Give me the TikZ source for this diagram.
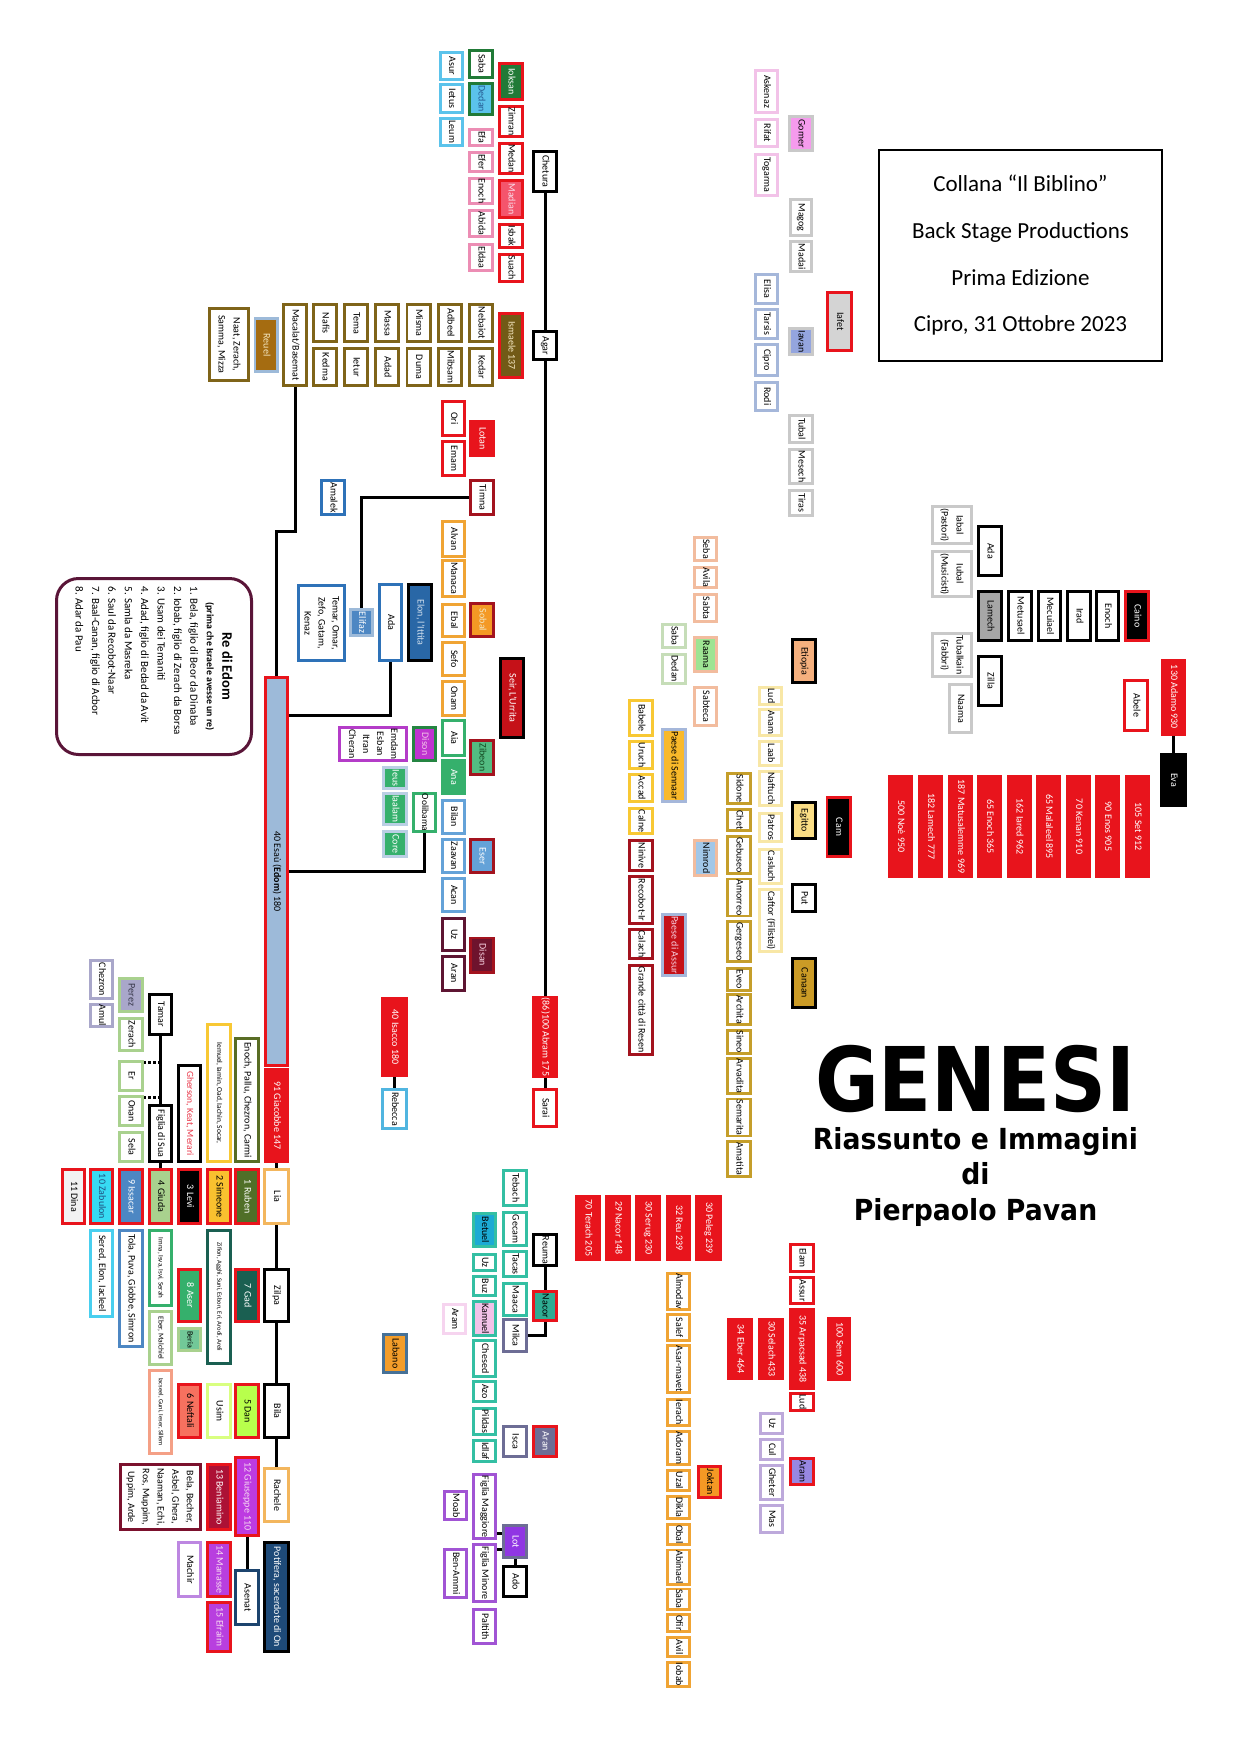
\documentclass[tikz,border=0pt]{standalone}
\usepackage{fontspec}
\setmainfont{Carlito}
\newfontfamily\titlefont{DejaVu Sans}
\usepackage{graphicx}
\definecolor{rosso}{HTML}{E8141C}
\definecolor{rossoscuro}{HTML}{A3131E}
\definecolor{azzurro}{HTML}{5BC3EB}
\definecolor{verdescuro}{HTML}{217A37}
\definecolor{rosa}{HTML}{EC8DB4}
\definecolor{oliva}{HTML}{7F6419}
\definecolor{arancio}{HTML}{F0A434}
\definecolor{blu}{HTML}{2E72B8}
\definecolor{verdeedom}{HTML}{35B06C}
\definecolor{celeste}{HTML}{64A2D8}
\definecolor{bordeaux}{HTML}{5E1532}
\definecolor{magenta2}{HTML}{B43CC8}
\definecolor{grigio}{HTML}{C9C9C9}
\definecolor{rosachiaro}{HTML}{F2C2E8}
\definecolor{grigioblu}{HTML}{A5B7DA}
\definecolor{pesca}{HTML}{F2BC9E}
\definecolor{verdechiaro}{HTML}{C6DDB8}
\definecolor{giallo}{HTML}{F8C834}
\definecolor{giallino}{HTML}{F8E7A6}
\definecolor{oro}{HTML}{C59E2A}
\definecolor{turchese}{HTML}{34BFA3}
\definecolor{ardesia}{HTML}{6D6D95}
\definecolor{viola}{HTML}{A154D4}
\definecolor{lavanda}{HTML}{BDA9DB}
\definecolor{verdefoglia}{HTML}{A9D18E}
\definecolor{grigioviola}{HTML}{A9A7CA}
\definecolor{cornice}{HTML}{5A1538}
\definecolor{azzurrino}{HTML}{9DBAD9}
\definecolor{crema}{HTML}{F3E6C0}
\newcommand{\vt}[1]{\rotatebox{-90}{\begin{tabular}{@{}c@{}}#1\end{tabular}}}

\begin{document}
\begin{tikzpicture}[x=1pt, y=-1pt,
	box/.style={draw, fill=white, line width=2.8pt, inner sep=0.4pt, font=\fontsize{10}{12}\selectfont},
	wh/.style 2 args={minimum width={#1-2.8}, minimum height={#2-2.8}},
	redbox/.style={box, draw=rosso},
	redfill/.style={box, draw=rosso, fill=rosso, text=white},
	blackbox/.style={box, draw=black, line width=3.4pt},
	cyanbox/.style={box, draw=azzurro},
	greenbox/.style={box, draw=verdescuro},
	pinkbox/.style={box, draw=rosa},
	olivebox/.style={box, draw=oliva},
	dkredbox/.style={box, draw=rossoscuro},
	orangebox/.style={box, draw=arancio},
	bluebox/.style={box, draw=blu},
	edgreenbox/.style={box, draw=verdeedom},
	sbluebox/.style={box, draw=celeste},
	maroonbox/.style={box, draw=bordeaux},
	magbox/.style={box, draw=magenta2},
	greybox/.style={box, draw=grigio},
	lpinkbox/.style={box, draw=rosachiaro},
	lbgbox/.style={box, draw=grigioblu},
	peachbox/.style={box, draw=pesca},
	lgreenbox/.style={box, draw=verdechiaro},
	ylwbox/.style={box, draw=giallo},
	lyelbox/.style={box, draw=giallino},
	goldbox/.style={box, draw=oro},
	tealbox/.style={box, draw=turchese},
	slatebox/.style={box, draw=ardesia},
	violetbox/.style={box, draw=viola},
	lavbox/.style={box, draw=lavanda},
	leafbox/.style={box, draw=verdefoglia},
	greyvbox/.style={box, draw=grigioviola},
	link/.style={line width=3pt},
	dotlink/.style={line width=3pt, dash pattern=on 2.5pt off 2.5pt}]
\fill[white] (0,0) rectangle (1241,1754);
\useasboundingbox (0,0) rectangle (1241,1754);

% titolo e colophon
\node[draw, line width=2pt, minimum width=283, minimum height=211, align=center,
	font=\fontsize{23}{46.7}\selectfont] (collana) at (1020.5,255.5)
	{Collana “Il Biblino”\\Back Stage Productions\\Prima Edizione\\Cipro, 31 Ottobre 2023};
\node[inner sep=0pt, anchor=base] (genesi) at (975,1111)
	{\scalebox{0.845}[0.97]{\titlefont\bfseries\fontsize{92}{92}\selectfont GENESI}};
\node[inner sep=0pt, anchor=base] (riassunto) at (975.5,1149)
	{\scalebox{0.92}[1]{\titlefont\bfseries\fontsize{29}{30}\selectfont Riassunto e Immagini}};
\node[inner sep=0pt, anchor=base] (di) at (975.5,1184)
	{\scalebox{0.92}[1]{\titlefont\bfseries\fontsize{29}{30}\selectfont di}};
\node[inner sep=0pt, anchor=base] (autore) at (975.5,1220)
	{\scalebox{0.92}[1]{\titlefont\bfseries\fontsize{29}{30}\selectfont Pierpaolo Pavan}};

% Chetura e Agar
\node[cyanbox, wh={25}{30}] (asur) at (451.5,66) {\vt{Asur}};
\node[cyanbox, wh={25}{31}] (ietus) at (451.5,98.5) {\vt{Ietus}};
\node[cyanbox, wh={25}{30}] (leum) at (451.5,132) {\vt{Leum}};
\node[greenbox, wh={26}{30}] (sabak) at (481,64) {\vt{Saba}};
\node[greenbox, fill=azzurro, text=blu!80!black, wh={26}{34}] (dedank) at (481,99) {\vt{Dedan}};
\node[redbox, fill=verdescuro, text=white, wh={26}{39}] (ioksan) at (511,81.5) {\vt{Ioksan}};
\node[redbox, wh={26}{33}] (zimran) at (511,121.5) {\vt{Zimran}};
\node[redbox, wh={26}{33}] (medan) at (511,158.5) {\vt{Medan}};
\node[redbox, fill=rosa!60!red, text=rosa!30, wh={26}{40}] (madian) at (511,199) {\vt{Madian}};
\node[redbox, wh={26}{26}] (isbak) at (511,236) {\vt{Isbak}};
\node[redbox, wh={26}{30}] (suach) at (511,268) {\vt{Suach}};
\node[pinkbox, wh={26}{19}] (efa) at (481,137.5) {\vt{Efa}};
\node[pinkbox, wh={26}{22}] (efer) at (481,162) {\vt{Efer}};
\node[pinkbox, wh={26}{28}] (enochm) at (481,191) {\vt{Enoch}};
\node[pinkbox, wh={26}{29}] (abida) at (481,223.5) {\vt{Abida}};
\node[pinkbox, wh={26}{29}] (eldaa) at (481,257.5) {\vt{Eldaa}};
\node[blackbox, wh={26}{43}] (chetura) at (545,171.5) {\vt{Chetura}};
\node[blackbox, wh={26}{31}] (agar) at (545,345.5) {\vt{Agar}};
\node[redbox, fill=oliva!90!black, text=crema, wh={26}{67}] (ismaele) at (511,345.5) {\vt{Ismaele 137}};
\node[olivebox, wh={26}{40}] (nebaiot) at (481,323) {\vt{Nebaiot}};
\node[olivebox, wh={26}{40}] (kedar) at (481,367) {\vt{Kedar}};
\node[olivebox, wh={26}{40}] (adbeel) at (450,323) {\vt{Adbeel}};
\node[olivebox, wh={26}{40}] (mibsam) at (450,367) {\vt{Mibsam}};
\node[olivebox, wh={26}{40}] (misma) at (418.5,323) {\vt{Misma}};
\node[olivebox, wh={26}{40}] (duma) at (418.5,367) {\vt{Duma}};
\node[olivebox, wh={26}{40}] (massa) at (387,323) {\vt{Massa}};
\node[olivebox, wh={26}{40}] (adad) at (387,367) {\vt{Adad}};
\node[olivebox, wh={26}{40}] (tema) at (356,323) {\vt{Tema}};
\node[olivebox, wh={26}{40}] (ietur) at (356,367) {\vt{Ietur}};
\node[olivebox, wh={26}{40}] (nafis) at (325,323) {\vt{Nafis}};
\node[olivebox, wh={26}{40}] (kedma) at (325,367) {\vt{Kedma}};
\node[olivebox, wh={26}{84}] (macalat) at (295,345) {\vt{Macalat/Basemat}};
\node[box, draw=azzurrino, fill=oliva!70!orange, text=crema, wh={25}{56}] (reuel) at (266,345) {\vt{Reuel}};
\node[olivebox, wh={42}{75}, font=\fontsize{10}{15}\selectfont] (naat) at (229,344.5) {\vt{Naat, Zerach,\\Samma, Mizza}};

% Seir
\node[redbox, wh={25}{37}] (ori) at (453.5,418.5) {\vt{Ori}};
\node[redbox, wh={25}{37}] (emam) at (453.5,458.5) {\vt{Emam}};
\node[redfill, wh={26}{37}] (lotan) at (482,438.5) {\vt{Lotan}};
\node[dkredbox, wh={26}{37}] (timna) at (482,497.5) {\vt{Timna}};
\node[orangebox, wh={25}{38}] (alvan) at (453.5,539) {\vt{Alvan}};
\node[orangebox, wh={25}{39}] (manaca) at (453.5,578.5) {\vt{Manaca}};
\node[orangebox, wh={25}{35}] (ebal) at (453.5,620.5) {\vt{Ebal}};
\node[orangebox, wh={25}{36}] (sefo) at (453.5,659) {\vt{Sefo}};
\node[orangebox, wh={25}{37}] (onam) at (453.5,698.5) {\vt{Onam}};
\node[edgreenbox, wh={25}{38}] (aia) at (453.5,738) {\vt{Aia}};
\node[edgreenbox, fill=verdeedom, text=white, wh={25}{36}] (ana) at (453.5,777) {\vt{Ana}};
\node[sbluebox, wh={25}{36}] (bilan) at (453.5,817) {\vt{Bilan}};
\node[sbluebox, wh={25}{36}] (zaavan) at (453.5,856) {\vt{Zaavan}};
\node[sbluebox, wh={25}{36}] (acan) at (453.5,895) {\vt{Acan}};
\node[maroonbox, wh={25}{35}] (uzs) at (453.5,934.5) {\vt{Uz}};
\node[maroonbox, wh={25}{37}] (arans) at (453.5,973.5) {\vt{Aran}};
\node[dkredbox, fill=arancio!70!orange, text=crema, wh={26}{36}] (sobal) at (482,620) {\vt{Sobal}};
\node[blackbox, fill=rosso!85!black, text=white, wh={26}{82}] (seir) at (512,698) {\vt{Seir, L’Urrita}};
\node[dkredbox, fill=verdeedom!85!white, text=verdescuro!60!black, wh={26}{37}] (zibeon) at (482,757.5) {\vt{Zibeon}};
\node[dkredbox, fill=celeste, text=white, wh={26}{36}] (eser) at (482,856) {\vt{Eser}};
\node[maroonbox, draw=rossoscuro, fill=bordeaux!90!red, text=rosa!40, wh={26}{37}] (disan) at (482,955) {\vt{Disan}};

% Esaù
\node[bluebox, wh={26}{37}] (amalek) at (333,497.5) {\vt{Amalek}};
\node[box, draw=azzurrino, fill=blu!85!white, text=white, wh={25}{29}] (elifaz) at (361.5,622.5) {\vt{Elifaz}};
\node[bluebox, wh={49}{78}, font=\fontsize{10}{14}\selectfont] (temar) at (321.5,623) {\vt{Temar, Omar,\\Zefo, Gatam,\\Kenaz}};
\node[bluebox, wh={25}{79}] (adae) at (390.5,622.5) {\vt{Ada}};
\node[blackbox, fill=blu!90!black, text=azzurrino!50!white, wh={26}{79}] (elon) at (420,622.5) {\vt{Elon, l’Ittita}};
\node[box, draw=verdescuro!80!verdeedom, fill=magenta2!85!magenta, text=rosachiaro, wh={25}{36}] (dison) at (424.5,744) {\vt{Dison}};
\node[magbox, wh={70}{36}, font=\fontsize{10}{14}\selectfont] (emdam) at (373,744) {\vt{Emdam\\Esban\\Itran\\Cheran}};
\node[box, draw=azzurrino!70!white, fill=verdeedom, text=white, wh={26}{24}] (ieus) at (395,778) {\vt{Ieus}};
\node[box, draw=azzurrino!70!white, fill=verdeedom, text=white, wh={26}{34}] (iaalam) at (395,809) {\vt{Iaalam}};
\node[box, draw=azzurrino!70!white, fill=verdeedom, text=white, wh={26}{28}] (core) at (395,844) {\vt{Core}};
\node[edgreenbox, wh={25}{39}, font=\fontsize{9.5}{12}\selectfont] (oolibama) at (424.5,812.5) {\vt{Oolibama}};
\node[redbox, fill=azzurrino, wh={25}{391}] (esau) at (276.5,871.5) {\vt{40 Esaù (\textbf{Edom}) 180}};
\node[redfill, wh={25}{95}] (giacobbe) at (276.5,1115.5) {\vt{91 Giacobbe 147}};
\node[draw=cornice, line width=3pt, rounded corners=22pt, minimum width=195, minimum height=176,
	inner sep=0pt] (redom) at (154,666.5) {\rotatebox{-90}{\begin{minipage}{160pt}\centering
	{\fontsize{14.5}{17}\selectfont\bfseries Re di Edom\par}
	{\fontsize{9.8}{15.5}\selectfont\bfseries (prima che Israele avesse un re)\par}
	\raggedright\fontsize{11}{16.4}\selectfont
	1. Bela, figlio di Beor da Dinaba\\
	2. Iobab, figlio di Zerach da Borsa\\
	3. Usam dei Temaniti\\
	4. Adad, figlio di Bedad da Avit\\
	5. Samla da Masreka\\
	6. Saul da Recobot-Naar\\
	7. Baal-Canan, figlio di Acbor\\
	8. Adar da Pau\end{minipage}}};

% Giacobbe
\node[greyvbox, wh={25}{41}] (chezron) at (101.5,979.5) {\vt{Chezron}};
\node[greyvbox, wh={25}{25}] (amul) at (101.5,1015.5) {\vt{Amul}};
\node[leafbox, fill=grigioviola, text=ardesia!50!black, wh={26}{36}] (perez) at (131,995) {\vt{Perez}};
\node[leafbox, wh={26}{35}] (zerach) at (131,1034.5) {\vt{Zerach}};
\node[leafbox, wh={26}{32}] (er) at (131,1076) {\vt{Er}};
\node[leafbox, wh={26}{32}] (onan) at (131,1111) {\vt{Onan}};
\node[leafbox, wh={26}{32}] (sela) at (131,1147) {\vt{Sela}};
\node[blackbox, wh={25}{43}] (tamar) at (160.5,1014.5) {\vt{Tamar}};
\node[blackbox, wh={25}{59}] (figliasua) at (160.5,1133.5) {\vt{Figlia di Sua}};
\node[blackbox, text=rosso!70!rosa, wh={25}{99}, font=\fontsize{9.5}{12}\selectfont] (gherson) at (189.5,1113.5) {\vt{Gherson, Keat, Merari}};
\node[box, draw=giallo, wh={26}{140}, font=\fontsize{7.5}{9}\selectfont] (iemuel) at (219,1093) {\vt{Iemuel, Iamin, Oad, Iachin, Socar,}};
\node[box, draw=oliva!60!verdescuro, wh={26}{126}] (enochp) at (247,1100) {\vt{Enoch, Pallu, Chezron, Carmi}};
\node[box, draw=arancio!80!white, wh={27}{57}] (lia) at (276.5,1196.5) {\vt{Lia}};
\node[redbox, fill=oliva!50!verdescuro, text=white, wh={26}{57}] (ruben) at (247,1196.5) {\vt{1 Ruben}};
\node[redbox, fill=giallo!90!orange, wh={26}{57}] (simeone) at (219,1196.5) {\vt{2 Simeone}};
\node[redbox, fill=black, text=white, wh={25}{57}] (levi) at (189.5,1196.5) {\vt{3 Levi}};
\node[redbox, fill=verdefoglia, wh={25}{57}] (giuda) at (160.5,1196.5) {\vt{4 Giuda}};
\node[redbox, fill=blu!85!white, text=white, wh={26}{57}] (issacar) at (131,1196.5) {\vt{9 Issacar}};
\node[redbox, fill=azzurro!60!cyan, text=blu!70!black, wh={25}{57}] (zabulon) at (101.5,1196.5) {\vt{10 Zabulon}};
\node[redbox, fill=black!5, wh={25}{57}] (dina) at (73.5,1196.5) {\vt{11 Dina}};
\node[box, draw=azzurro!80!cyan, wh={25}{89}] (sered) at (101.5,1273.5) {\vt{Sered, Elon, Iacleel}};
\node[box, draw=blu!85!white, wh={26}{119}] (tola) at (131,1288.5) {\vt{Tola, Puva, Giobbe, Simron}};
\node[edgreenbox, wh={25}{78}, font=\fontsize{7}{9}\selectfont] (imna) at (160.5,1268) {\vt{Imna, Isva, Isvi, Serah}};
\node[leafbox, wh={25}{56}, font=\fontsize{7.5}{9}\selectfont] (ebermal) at (160.5,1338) {\vt{Eber, Malchiel}};
\node[redbox, fill=verdeedom, text=white, wh={25}{55}] (aser) at (189.5,1295.5) {\vt{8 Aser}};
\node[leafbox, fill=verdeedom!70!white, wh={25}{25}, font=\fontsize{8}{9}\selectfont] (beria) at (189.5,1339.5) {\vt{Beria}};
\node[box, draw=turchese!50!black, wh={26}{136}, font=\fontsize{6.5}{8}\selectfont] (zifion) at (219,1297) {\vt{Zifion, Agghi, Suni, Esbon, Eri, Arodi, Areli}};
\node[redbox, fill=turchese!50!black, text=white, wh={26}{55}] (gad) at (247,1295.5) {\vt{7 Gad}};
\node[blackbox, wh={27}{55}] (zilpa) at (276.5,1295.5) {\vt{Zilpa}};
\node[blackbox, wh={27}{56}] (bila) at (276.5,1411) {\vt{Bila}};
\node[redbox, fill=green!40!yellow!70!white, wh={26}{56}] (dan) at (247,1411) {\vt{5 Dan}};
\node[box, draw=green!30!yellow!50!white, wh={26}{56}] (usim) at (219,1411) {\vt{Usim}};
\node[redbox, fill=pesca!60!red, wh={25}{56}] (neftali) at (189.5,1411) {\vt{6 Neftali}};
\node[box, draw=pesca!85!red, wh={25}{86}, font=\fontsize{6.5}{8}\selectfont] (iacseel) at (160.5,1412) {\vt{Iacseel, Guni, Ieser, Sillem}};
\node[box, draw=arancio!80!white, wh={27}{56}] (rachele) at (276.5,1495) {\vt{Rachele}};
\node[redbox, fill=viola!70!magenta, text=rosachiaro!60!white, wh={26}{81}] (giuseppe) at (247,1496.5) {\vt{12 Giuseppe 110}};
\node[redbox, fill=rossoscuro!90!magenta, text=white, wh={26}{68}] (beniamino) at (219,1497) {\vt{13 Beniamino}};
\node[box, draw=cornice!80!red, wh={83}{68}, font=\fontsize{10}{14.7}\selectfont] (bela) at (160.5,1497)
	{\vt{Bela, Becher,\\Asbel, Ghera,\\Naaman, Echi,\\Ros, Muppim,\\Uppim, Arde}};
\node[box, draw=blu!60!black, wh={26}{57}] (asenat) at (247,1597.5) {\vt{Asenat}};
\node[blackbox, fill=blu!65!black, text=white, wh={27}{112}] (potifera) at (276.5,1597) {\vt{Potifera, sacerdote di On}};
\node[redbox, fill=viola!75!magenta, text=rosachiaro!60!white, wh={26}{57}] (manasse) at (219,1569.5) {\vt{14 Manasse}};
\node[redbox, fill=viola!75!magenta, text=rosachiaro!60!white, wh={26}{52}] (efraim) at (219,1627) {\vt{15 Efraim}};
\node[violetbox, draw=viola!70!white, wh={25}{57}] (machir) at (189.5,1569.5) {\vt{Machir}};
\node[box, draw=celeste!70!black, fill=arancio!80!orange, wh={26}{41}] (labano) at (395,1353.5) {\vt{Labano}};

% Abram e Isacco
\node[redfill, wh={27}{80}] (isacco) at (394.5,1037) {\vt{40 Isacco 180}};
\node[box, draw=celeste!80!cyan, wh={27}{42}] (rebecca) at (394.5,1109) {\vt{Rebecca}};
\node[redfill, wh={26}{80}] (abram) at (545,1037) {\vt{(86)100 Abram 175}};
\node[redbox, wh={26}{40}] (sarai) at (545,1108) {\vt{Sarai}};

% Nacor e Lot
\node[tealbox, wh={26}{38}] (tebach) at (515,1188) {\vt{Tebach}};
\node[tealbox, wh={26}{36}] (gecam) at (515,1229) {\vt{Gecam}};
\node[tealbox, wh={26}{28}] (tacas) at (515,1264) {\vt{Tacas}};
\node[tealbox, wh={26}{35}] (maaca) at (515,1299.5) {\vt{Maaca}};
\node[slatebox, wh={26}{35}] (milca) at (515,1335.5) {\vt{Milca}};
\node[blackbox, wh={26}{34}] (reuma) at (545,1250) {\vt{Reuma}};
\node[redbox, fill=turchese!90!black, wh={26}{32}] (nacor) at (545,1306) {\vt{Nacor}};
\node[tealbox, fill=blu!60!cyan, wh={25}{36}] (betuel) at (484.5,1230) {\vt{Betuel}};
\node[tealbox, wh={25}{19}] (uzn) at (484.5,1262.5) {\vt{Uz}};
\node[tealbox, wh={25}{22}] (buz) at (484.5,1286) {\vt{Buz}};
\node[tealbox, fill=rosachiaro, wh={25}{37}] (kamuel) at (484.5,1318.5) {\vt{Kamuel}};
\node[box, draw=rosachiaro!70!white, wh={25}{32}] (aramn) at (454.5,1319) {\vt{Aram}};
\node[tealbox, wh={25}{39}] (chesed) at (484.5,1358.5) {\vt{Chesed}};
\node[tealbox, wh={25}{23}] (azo) at (484.5,1391.5) {\vt{Azo}};
\node[tealbox, wh={25}{29}] (pildas) at (484.5,1421.5) {\vt{Pildas}};
\node[tealbox, wh={25}{24}] (idlaf) at (484.5,1451) {\vt{Idlaf}};
\node[slatebox, wh={26}{33}] (isca) at (515,1441.5) {\vt{Isca}};
\node[redbox, fill=ardesia, text=white, wh={26}{33}] (aran) at (545,1441.5) {\vt{Aran}};
\node[violetbox, wh={25}{67}] (figliamag) at (484.5,1506.5) {\vt{Figlia Maggiore}};
\node[violetbox, wh={25}{60}] (figliamin) at (484.5,1573) {\vt{Figlia Minore}};
\node[violetbox, wh={25}{37}] (paltith) at (484.5,1626.5) {\vt{Paltith}};
\node[violetbox, wh={25}{31}] (moab) at (455.5,1505.5) {\vt{Moab}};
\node[violetbox, wh={25}{51}] (benammi) at (455.5,1573.5) {\vt{Ben-Ammi}};
\node[slatebox, fill=viola!80!magenta!80!blue, text=white, wh={26}{35}] (lot) at (515,1541.5) {\vt{Lot}};
\node[blackbox, wh={26}{33}] (ado) at (515,1581.5) {\vt{Ado}};

% Sem
\node[redfill, wh={26}{66}] (terach) at (588,1228) {\vt{70 Terach 205}};
\node[redfill, wh={26}{66}] (nacorp) at (618,1228) {\vt{29 Nacor 148}};
\node[redfill, wh={26}{66}] (serug) at (648,1228) {\vt{30 Serug 230}};
\node[redfill, wh={25}{66}] (reu) at (678.5,1228) {\vt{32 Reu 239}};
\node[redfill, wh={27}{66}] (peleg) at (708.5,1228) {\vt{30 Peleg 239}};
\node[redfill, wh={26}{62}] (eber) at (740,1349) {\vt{34 Eber 464}};
\node[redfill, wh={26}{62}] (selach) at (771,1349) {\vt{30 Selach 433}};
\node[redfill, wh={26}{82}] (arpacsad) at (802,1349) {\vt{35 Arpacsad 438}};
\node[redfill, wh={24}{64}] (sem) at (839,1349) {\vt{100 Sem 600}};
\node[redbox, wh={26}{30}] (elam) at (802,1258) {\vt{Elam}};
\node[redbox, wh={26}{29}] (assur) at (802,1290.5) {\vt{Assur}};
\node[redbox, wh={26}{20}] (luds) at (802,1402) {\vt{Lud}};
\node[redbox, fill=lavanda!80!blue, wh={26}{29}] (aramp) at (802,1471.5) {\vt{Aram}};
\node[lavbox, wh={25}{23}] (uza) at (771.5,1423.5) {\vt{Uz}};
\node[lavbox, wh={25}{23}] (cul) at (771.5,1449.5) {\vt{Cul}};
\node[lavbox, wh={25}{37}] (gheter) at (771.5,1482.5) {\vt{Gheter}};
\node[lavbox, wh={25}{30}] (mas) at (771.5,1519) {\vt{Mas}};
\node[redbox, fill=arancio!70!orange, wh={25}{34}] (joktan) at (709.5,1482) {\vt{Joktan}};
\node[orangebox, wh={25}{39}] (almodav) at (678.5,1291.5) {\vt{Almodav}};
\node[orangebox, wh={25}{29}] (salef) at (678.5,1327.5) {\vt{Salef}};
\node[orangebox, wh={25}{50}] (asarmavet) at (678.5,1369) {\vt{Asar-mavet}};
\node[orangebox, wh={25}{29}] (ierach) at (678.5,1412.5) {\vt{Ierach}};
\node[orangebox, wh={25}{36}] (adoram) at (678.5,1448) {\vt{Adoram}};
\node[orangebox, wh={25}{23}] (uzal) at (678.5,1480.5) {\vt{Uzal}};
\node[orangebox, wh={25}{25}] (dikla) at (678.5,1507.5) {\vt{Dikla}};
\node[orangebox, wh={25}{23}] (obal) at (678.5,1534.5) {\vt{Obal}};
\node[orangebox, wh={25}{36}] (abimael) at (678.5,1567) {\vt{Abimael}};
\node[orangebox, wh={25}{22}] (sabaj) at (678.5,1599) {\vt{Saba}};
\node[orangebox, wh={25}{20}] (ofir) at (678.5,1623) {\vt{Ofir}};
\node[orangebox, wh={25}{22}] (avil) at (678.5,1647) {\vt{Avil}};
\node[orangebox, wh={25}{25}] (iobab) at (678.5,1674.5) {\vt{Iobab}};

% Cam
\node[peachbox, wh={25}{26}] (seba) at (705.5,549) {\vt{Seba}};
\node[peachbox, wh={25}{23}] (avila) at (705.5,577.5) {\vt{Avila}};
\node[peachbox, wh={25}{30}] (sabta) at (705.5,608) {\vt{Sabta}};
\node[peachbox, fill=verdechiaro!80!green, wh={25}{37}] (raama) at (705.5,654.5) {\vt{Raama}};
\node[peachbox, wh={25}{41}] (sabteca) at (705.5,706.5) {\vt{Sabteca}};
\node[lgreenbox, wh={26}{26}] (sabar) at (674,636) {\vt{Saba}};
\node[lgreenbox, wh={26}{32}] (dedanr) at (674,669) {\vt{Dedan}};
\node[lbgbox, fill=giallo!80!orange, wh={26}{75}] (sennaar) at (674,765.5) {\vt{Paese di Sennaar}};
\node[peachbox, fill=celeste!60!white, wh={25}{38}] (nimrod) at (705.5,858) {\vt{Nimrod}};
\node[lbgbox, fill=rosso!85!black, text=rosa!40, wh={26}{64}] (paeseassur) at (674,945) {\vt{Paese di Assur}};
\node[ylwbox, wh={26}{38}] (babele) at (641,718) {\vt{Babele}};
\node[ylwbox, wh={26}{30}] (uruch) at (641,755) {\vt{Uruch}};
\node[ylwbox, wh={26}{30}] (accad) at (641,788) {\vt{Accad}};
\node[ylwbox, wh={26}{28}] (calne) at (641,821) {\vt{Calne}};
\node[dkredbox, wh={26}{33}] (ninive) at (641,855.5) {\vt{Ninive}};
\node[dkredbox, wh={26}{50}] (recobot) at (641,900) {\vt{Recobot-Ir}};
\node[dkredbox, wh={26}{32}] (calach) at (641,944) {\vt{Calach}};
\node[dkredbox, wh={26}{92}] (resen) at (641,1010) {\vt{Grande città di Resen}};
\node[blackbox, fill=pesca!80!orange, wh={26}{46}] (etiopia) at (804,661) {\vt{Etiopia}};
\node[blackbox, fill=giallo!60!white, wh={26}{39}] (egitto) at (804,820.5) {\vt{Egitto}};
\node[redbox, fill=black, text=white, wh={26}{62}] (cam) at (838.5,827) {\vt{Cam}};
\node[blackbox, wh={26}{30}] (put) at (804,898) {\vt{Put}};
\node[blackbox, fill=oro!90!orange, wh={26}{52}] (canaan) at (804,983) {\vt{Canaan}};
\node[lyelbox, wh={25}{20}] (ludm) at (770.5,696) {\vt{Lud}};
\node[lyelbox, wh={25}{29}] (anam) at (770.5,722.5) {\vt{Anam}};
\node[lyelbox, wh={25}{27}] (laab) at (770.5,753.5) {\vt{Laab}};
\node[lyelbox, wh={25}{37}] (naftuch) at (770.5,788.5) {\vt{Naftuch}};
\node[lyelbox, wh={25}{31}] (patros) at (770.5,827.5) {\vt{Patros}};
\node[lyelbox, wh={25}{37}] (casluch) at (770.5,866.5) {\vt{Casluch}};
\node[lyelbox, wh={25}{65}] (caftor) at (770.5,920.5) {\vt{Caftor (Filistei)}};
\node[goldbox, wh={26}{33}] (sidone) at (739,788.5) {\vt{Sidone}};
\node[goldbox, wh={26}{24}] (chet) at (739,820) {\vt{Chet}};
\node[goldbox, wh={26}{40}] (gebuseo) at (739,855) {\vt{Gebuseo}};
\node[goldbox, wh={26}{39}] (amorreo) at (739,897.5) {\vt{Amorreo}};
\node[goldbox, wh={26}{43}] (gergeseo) at (739,941.5) {\vt{Gergeseo}};
\node[goldbox, wh={26}{25}] (eveo) at (739,979.5) {\vt{Eveo}};
\node[goldbox, wh={26}{33}] (archita) at (739,1009.5) {\vt{Archita}};
\node[goldbox, wh={26}{26}] (sineo) at (739,1042) {\vt{Sineo}};
\node[goldbox, wh={26}{38}] (arvadita) at (739,1076) {\vt{Arvadita}};
\node[goldbox, wh={26}{39}] (semarita) at (739,1117.5) {\vt{Semarita}};
\node[goldbox, wh={26}{38}] (amatita) at (739,1159) {\vt{Amatita}};

% Iafet
\node[lpinkbox, wh={25}{45}] (askenaz) at (766.5,91.5) {\vt{Askenaz}};
\node[lpinkbox, wh={25}{30}] (rifat) at (766.5,133) {\vt{Rifat}};
\node[lpinkbox, wh={25}{44}] (togarma) at (766.5,175) {\vt{Togarma}};
\node[greybox, fill=rosachiaro!80!magenta, wh={26}{37}] (gomer) at (801,133.5) {\vt{Gomer}};
\node[greybox, wh={24}{39}] (magog) at (801,217.5) {\vt{Magog}};
\node[greybox, wh={24}{33}] (madai) at (801,256.5) {\vt{Madai}};
\node[lbgbox, wh={25}{32}] (elisa) at (766.5,289) {\vt{Elisa}};
\node[lbgbox, wh={25}{32}] (tarsis) at (766.5,324) {\vt{Tarsis}};
\node[lbgbox, wh={25}{34}] (cipro) at (766.5,360) {\vt{Cipro}};
\node[lbgbox, wh={25}{31}] (rodi) at (766.5,396.5) {\vt{Rodi}};
\node[greybox, fill=grigioblu!90!blue, wh={26}{29}] (iavan) at (801,341.5) {\vt{Iavan}};
\node[redbox, fill=grigio!80!white, wh={27}{61}] (iafet) at (839.5,321.5) {\vt{Iafet}};
\node[greybox, wh={26}{30}] (tubal) at (801,429) {\vt{Tubal}};
\node[greybox, wh={26}{37}] (mesech) at (801,466.5) {\vt{Mesech}};
\node[greybox, wh={26}{28}] (tiras) at (801,503) {\vt{Tiras}};

% Adamo e Caino
\node[redbox, fill=black, text=white, wh={26}{52}] (caino) at (1137,616) {\vt{Caino}};
\node[blackbox, wh={25}{52}] (enochc) at (1107.5,616) {\vt{Enoch}};
\node[blackbox, wh={26}{52}] (irad) at (1079,616) {\vt{Irad}};
\node[blackbox, wh={25}{52}] (mecuiael) at (1049.5,616) {\vt{Mecuiael}};
\node[blackbox, wh={26}{52}] (metusael) at (1020,616) {\vt{Metusael}};
\node[blackbox, fill=black!35, wh={26}{52}] (lamech) at (990,616) {\vt{Lamech}};
\node[blackbox, wh={26}{52}] (adac) at (990,551) {\vt{Ada}};
\node[blackbox, wh={26}{52}] (zilla) at (990,681) {\vt{Zilla}};
\node[greybox, wh={42}{40}, font=\fontsize{10}{15}\selectfont] (iabal) at (952,525) {\vt{Iabal\\(Pastori)}};
\node[greybox, wh={42}{48}, font=\fontsize{10}{15}\selectfont] (iubal) at (952,574) {\vt{Iubal\\(Musicisti)}};
\node[greybox, wh={42}{46}, font=\fontsize{10}{15}\selectfont] (tubalkain) at (952,655) {\vt{Tubalkain\\(Fabbri)}};
\node[greybox, wh={25}{51}] (naama) at (960.5,708.5) {\vt{Naama}};
\node[redbox, wh={26}{53}] (abele) at (1136,705.5) {\vt{Abele}};
\node[redfill, wh={25}{77}] (adamo) at (1173.5,697) {\vt{130 Adamo 930}};
\node[blackbox, fill=black, text=white, wh={27}{54}] (eva) at (1173.5,780) {\vt{Eva}};
\node[redfill, wh={25}{103}] (noe) at (900.5,826.5) {\vt{500 Noè 950}};
\node[redfill, wh={25}{103}] (lamechs) at (930.5,826.5) {\vt{182 Lamech 777}};
\node[redfill, wh={25}{103}] (matusalemme) at (960.5,826.5) {\vt{187 Matusalemme 969}};
\node[redfill, wh={25}{103}] (enochs) at (989.5,826.5) {\vt{65 Enoch 365}};
\node[redfill, wh={25}{103}] (iared) at (1019,826.5) {\vt{162 Iared 962}};
\node[redfill, wh={25}{103}] (malaleel) at (1048.5,826.5) {\vt{65 Malaleel 895}};
\node[redfill, wh={25}{103}] (kenan) at (1078.5,826.5) {\vt{70 Kenan 910}};
\node[redfill, wh={25}{103}] (enos) at (1107.5,826.5) {\vt{90 Enos 905}};
\node[redfill, wh={25}{103}] (set) at (1137.5,826.5) {\vt{105 Set 912}};

% collegamenti
\coordinate (edomknee) at (295,531);
\coordinate (adaknee) at (390.5,715);
\coordinate (oolknee) at (424.5,871);
\coordinate (erdot) at (160.5,1062);
\coordinate (onandot) at (160.5,1097);
\draw[link] (chetura) -- (agar);
\draw[link] (agar) -- (abram);
\draw[link] (abram) -- (sarai);
\draw[link] (isacco) -- (rebecca);
\draw[link] (adamo) -- (eva);
\draw[link] (macalat) -- (edomknee) -| (esau);
\draw[link] (timna) -| (elifaz);
\draw[link] (adae) -- (adaknee) -- (adaknee -| esau.east);
\draw[link] (oolibama) -- (oolknee) -- (oolknee -| esau.east);
\draw[link] (giacobbe) -- (lia);
\draw[link] (lia) -- (zilpa);
\draw[link] (zilpa) -- (bila);
\draw[link] (bila) -- (rachele);
\draw[link] (tamar) -- (figliasua);
\draw[link] (figliasua) -- (giuda);
\draw[dotlink] (erdot) -- (erdot -| er.east);
\draw[dotlink] (onandot) -- (onandot -| onan.east);
\draw[link] (giuseppe) -- (asenat);
\draw[link] (reuma) -- (nacor);
\draw[link] (nacor) |- (milca);
\draw[link] (lot) -- (ado);
\draw[link] ([yshift=8.5pt]lot.west) -- ([yshift=8.5pt]lot.west -| figliamag.east);
\draw[link] ([yshift=-7.5pt]lot.west) -- ([yshift=-7.5pt]lot.west -| figliamin.east);
\end{tikzpicture}
\end{document}
